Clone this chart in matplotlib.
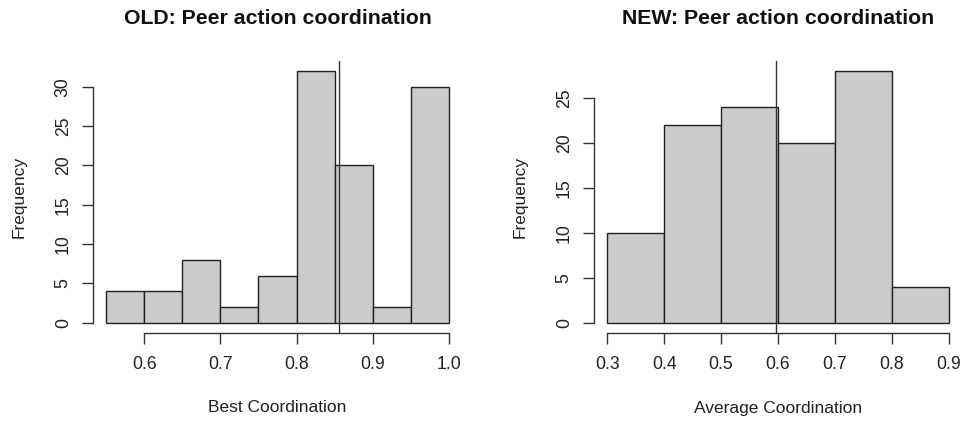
import numpy as np
import matplotlib
matplotlib.use("Agg")
import matplotlib.pyplot as plt

plt.rcParams["font.family"] = ["Liberation Sans", "DejaVu Sans"]

# left panel: OLD
old_edges = [0.55, 0.60, 0.65, 0.70, 0.75, 0.80, 0.85, 0.90, 0.95, 1.00]
old_counts = [4, 4, 8, 2, 6, 32, 20, 2, 30]
old_mark = 0.856
old_xticks = [0.6, 0.7, 0.8, 0.9, 1.0]
old_yticks = [0, 5, 10, 15, 20, 25, 30]

# right panel: NEW
new_edges = [0.3, 0.4, 0.5, 0.6, 0.7, 0.8, 0.9]
new_counts = [10, 22, 24, 20, 28, 4]
new_mark = 0.597
new_xticks = [0.3, 0.4, 0.5, 0.6, 0.7, 0.8, 0.9]
new_yticks = [0, 5, 10, 15, 20, 25]

W, H = 963, 421
fig = plt.figure(figsize=(W / 100, H / 100), dpi=100)


def r_hist(rect, edges, counts, mark, xticks, yticks, title, xlabel, ylab_x):
    ax = fig.add_axes(rect)
    e = np.array(edges)
    ax.hist(e[:-1], bins=e, weights=counts, color="#CBCBCB",
            edgecolor="#222222", linewidth=1.0)
    xr = e[-1] - e[0]
    ax.set_xlim(e[0] - 0.04 * xr, e[-1] + 0.04 * xr)
    ym = max(counts)
    ax.set_ylim(-0.04 * ym, ym * 1.04)
    ax.axvline(mark, color="#333333", linewidth=1.0)
    for s in ["top", "right"]:
        ax.spines[s].set_visible(False)
    ax.spines["bottom"].set_bounds(xticks[0], xticks[-1])
    ax.spines["left"].set_bounds(yticks[0], yticks[-1])
    for s in ["bottom", "left"]:
        ax.spines[s].set_color("#333333")
        ax.spines[s].set_linewidth(1.0)
    ax.set_xticks(xticks)
    ax.set_xticklabels([f"{t:.1f}" for t in xticks])
    ax.set_yticks(yticks)
    ax.set_yticklabels([str(t) for t in yticks], rotation=90, va="center")
    ax.tick_params(direction="out", length=8, width=1.0, color="#333333",
                   labelsize=12.7, labelcolor="#222222", pad=9)
    ax.tick_params(axis="y", pad=7)
    cx = rect[0] + rect[2] / 2
    fig.text(cx, 1 - 19 / H, title, ha="center", va="center",
             fontsize=15.3, fontweight="bold", color="#111111")
    fig.text(cx, 1 - 408 / H, xlabel, ha="center", va="center",
             fontsize=12.5, color="#222222")
    fig.text(ylab_x / W, rect[1] + rect[3] / 2, "Frequency", ha="center",
             va="center", rotation=90, fontsize=12.5, color="#222222")
    return ax


bottom = 1 - 332.8 / H
height = (332.8 - 61) / H
r_hist([92.6 / W, bottom, (462.4 - 92.6) / W, height], old_edges, old_counts,
       old_mark, old_xticks, old_yticks,
       "OLD: Peer action coordination", "Best Coordination", 19)
r_hist([593.6 / W, bottom, (962.5 - 593.6) / W, height], new_edges, new_counts,
       new_mark, new_xticks, new_yticks,
       "NEW: Peer action coordination", "Average Coordination", 520)

fig.savefig("out.png", dpi=100)
